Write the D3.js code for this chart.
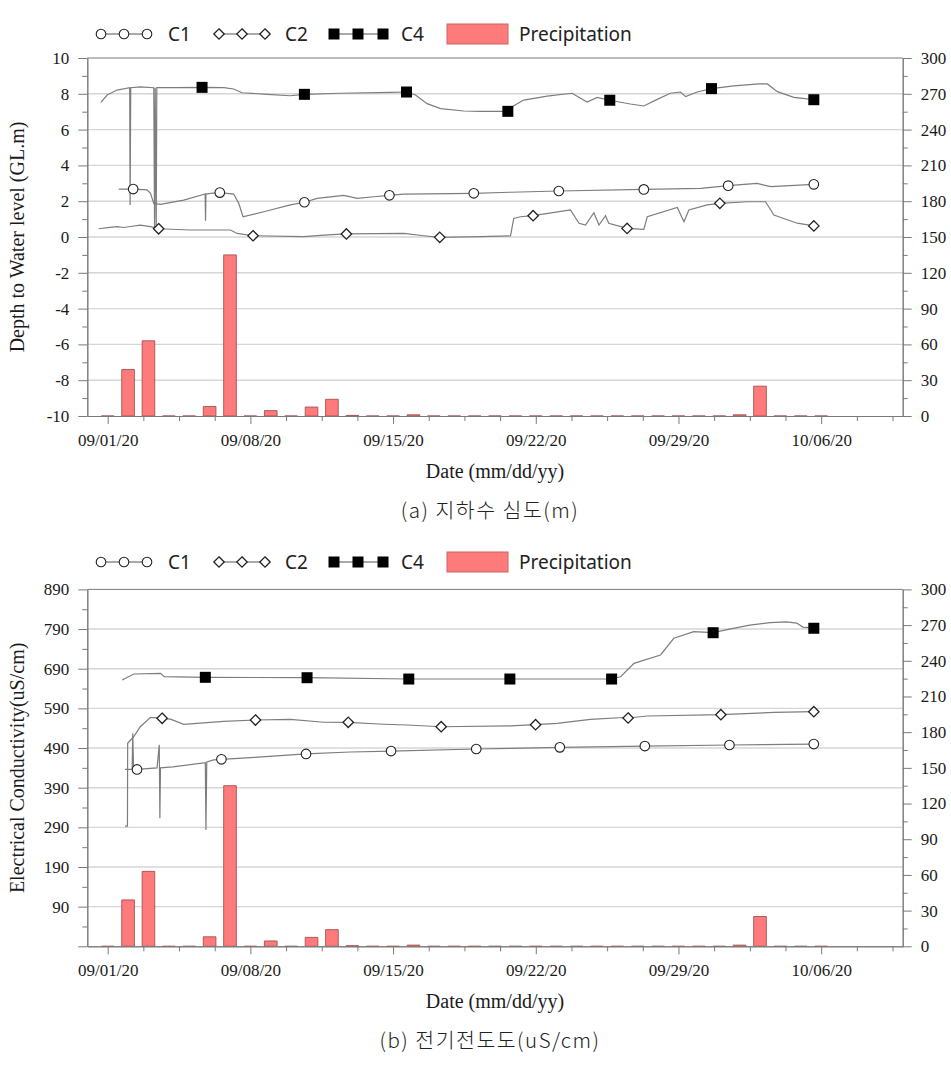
<!DOCTYPE html>
<html><head><meta charset="utf-8">
<script src="https://cdn.jsdelivr.net/npm/d3@7"></script>
<style>body{margin:0;background:#fff} svg{display:block}</style>
</head><body><svg id="c" width="951" height="1065"></svg>
<script>
// ---------- DATA ----------
const xTickLabels = ["09/01/20","09/08/20","09/15/20","09/22/20","09/29/20","10/06/20"];
const xDomainLabels = ["08/31/20","10/10/20"];
const seriesNames = ["C1","C2","C4"];
const barName = "Precipitation";
// daily precipitation (mm) 09/01/20 .. 10/06/20
const precipStart = "09/01/20";
const precipValues = [0,39,63,0,0,8,135,0,4.5,0,7.5,14,0.5,0,0,1,0,0,0,0,0,0,0,0,0,0,0,0,0,0,0,1,25,0,0,0];

// (a) depth to water level: [days since 09/01/20, GL.m]
const depthC1 = [[0.54,2.68],[1.25,2.68],[1.93,2.63],[2.1,2.44],[2.26,1.88],[2.59,1.82],[3.73,2.06],[4.78,2.4],[4.8,0.91],[4.82,2.4],[5.04,2.44],[5.5,2.48],[6.18,2.4],[6.43,1.88],[6.64,1.13],[7.66,1.41],[8.96,1.79],[9.65,1.94],[10.27,2.16],[11.58,2.33],[12.24,2.16],[13.05,2.25],[13.82,2.33],[14.53,2.4],[17.96,2.44],[19.76,2.5],[22.13,2.57],[26.3,2.66],[29.1,2.72],[30.44,2.87],[31.86,3.0],[32.52,2.81],[34.64,2.94]];
const depthC1Marks = [[1.25,2.68],[5.5,2.48],[9.65,1.94],[13.82,2.33],[17.96,2.44],[22.13,2.57],[26.3,2.66],[30.44,2.87],[34.64,2.94]];
const depthC2 = [[-0.44,0.46],[0.0,0.52],[0.46,0.58],[0.79,0.53],[1.2,0.6],[1.6,0.66],[2.1,0.58],[2.5,0.46],[4.06,0.39],[6.02,0.39],[6.35,0.2],[7.13,0.07],[9.62,0.02],[10.6,0.11],[11.71,0.17],[14.53,0.2],[15.5,0.07],[16.29,-0.02],[18.29,0.02],[19.76,0.06],[19.92,1.04],[20.25,1.13],[20.87,1.19],[22.7,1.51],[23.12,0.77],[23.44,0.67],[23.85,1.36],[24.1,0.67],[24.42,1.19],[24.58,0.77],[25.48,0.48],[26.3,0.43],[26.47,1.13],[27.94,1.65],[28.27,0.85],[28.51,1.51],[29.41,1.79],[30.03,1.88],[31.37,1.97],[32.27,1.97],[32.68,1.23],[33.83,0.77],[34.64,0.62]];
const depthC2Marks = [[2.5,0.46],[7.13,0.07],[11.71,0.17],[16.29,-0.02],[20.87,1.19],[25.48,0.48],[30.03,1.88],[34.64,0.62]];
const depthC4 = [[-0.33,7.52],[-0.03,7.93],[0.46,8.21],[1.08,8.34],[1.1,1.79],[1.13,8.34],[1.6,8.39],[2.26,8.34],[2.3,0.48],[2.33,8.34],[2.38,0.48],[2.41,8.34],[3.24,8.34],[4.63,8.36],[5.7,8.34],[6.18,8.27],[6.59,8.06],[7.82,7.97],[8.96,7.89],[9.65,7.97],[11.42,8.03],[13.87,8.08],[14.66,8.1],[15.1,7.93],[15.67,7.45],[16.33,7.17],[17.47,7.04],[18.29,7.02],[19.63,7.02],[19.92,7.34],[20.41,7.65],[21.56,7.87],[22.78,8.03],[23.52,7.54],[24.01,7.8],[24.63,7.64],[25.64,7.43],[26.3,7.32],[26.96,7.69],[27.6,8.03],[28.1,8.1],[28.35,7.84],[28.92,8.1],[29.62,8.29],[30.72,8.44],[31.95,8.55],[32.36,8.55],[32.85,8.12],[33.66,7.8],[34.64,7.67]];
const depthC4Marks = [[4.63,8.36],[9.65,7.97],[14.66,8.1],[19.63,7.02],[24.63,7.64],[29.62,8.29],[34.64,7.67]];

// (b) electrical conductivity: [days since 09/01/20, uS/cm]
const ecC1 = [[0.85,436],[1.2,436],[1.23,527],[1.27,436],[1.44,436],[2.42,440],[2.53,498],[2.56,313],[2.59,440],[3.2,442.5],[4.79,453],[4.82,283],[4.86,455],[5.2,460],[5.58,461.5],[7.2,466.6],[9.73,475],[11.9,480],[13.9,482.4],[18.08,487.5],[19.8,489],[22.18,491.7],[26.35,495],[30.5,497.6],[34.64,500]];
const ecC1Marks = [[1.44,436],[5.58,461.5],[9.73,475],[13.9,482.4],[18.08,487.5],[22.18,491.7],[26.35,495],[30.5,497.6],[34.64,500]];
const ecC2 = [[0.85,293],[0.97,293],[0.98,502],[1.28,519],[1.6,543.7],[2.1,567.5],[2.67,565],[3.08,562.7],[3.73,549.8],[5.69,557],[7.25,560.6],[8.96,562.3],[10.6,555],[11.8,554.8],[13.54,550],[14.69,548],[16.36,543.7],[19.76,546],[20.99,548.8],[22.05,552],[23.68,562.3],[25.32,567],[25.53,565.7],[26.47,570.7],[30.08,574],[32.68,580],[34.64,581.6]];
const ecC2Marks = [[2.67,565],[7.25,560.6],[11.8,554.8],[16.36,543.7],[20.99,548.8],[25.53,565.7],[30.08,574],[34.64,581.6]];
const ecC4 = [[0.71,661.5],[1.28,676.6],[2.59,678.4],[2.78,669.8],[4.79,668.3],[9.78,667.3],[14.77,664],[19.73,664],[24.72,664],[25.16,669.8],[25.82,703.6],[27.12,724.6],[27.77,766.7],[28.75,783.3],[29.7,780.8],[30.5,790],[31.5,800],[32.5,806],[33.3,808],[33.8,805],[34.1,795],[34.64,792]];
const ecC4Marks = [[4.79,668.3],[9.78,667.3],[14.77,664],[19.73,664],[24.72,664],[29.7,780.8],[34.64,792]];

const depthTicks = [-10,-8,-6,-4,-2,0,2,4,6,8,10];
const ecTicks = [-10,90,190,290,390,490,590,690,790,890];
const precipTicks = [0,30,60,90,120,150,180,210,240,270,300];

// ---------- DRAW ----------
const svg = d3.select("#c");
const parse = d3.utcParse("%m/%d/%y");
const fmt = d3.utcFormat("%m/%d/%y");
const DAY = 864e5;
const base = parse(precipStart).getTime();
const toDate = d => new Date(base + d * DAY);
const X0 = 87.3, X1 = 902.7;
const x = d3.scaleUtc().domain(xDomainLabels.map(parse)).range([X0, X1]);
const majorDates = xTickLabels.map(parse);
const minorDates = [];
majorDates.forEach(m => { for (let i = 1; i <= 3; i++) { const d = new Date(m.getTime() + i * 1.75 * DAY); if (d < x.domain()[1]) minorDates.push(d); } });

const serif = "'Liberation Serif','Times New Roman',serif";
const sans = "'Noto Sans','Open Sans',sans-serif";
const axisCol = "#7a7a7a";

function marker(g, type, cx, cy) {
  if (type === "circle") g.append("circle").attr("cx", cx).attr("cy", cy).attr("r", 4.8).attr("fill", "#fff").attr("stroke", "#222").attr("stroke-width", 1.1);
  else if (type === "diamond") g.append("path").attr("d", `M${cx},${cy-5.2}L${cx+5.2},${cy}L${cx},${cy+5.2}L${cx-5.2},${cy}Z`).attr("fill", "#fff").attr("stroke", "#222").attr("stroke-width", 1.3);
  else g.append("rect").attr("x", cx-5.5).attr("y", cy-5.5).attr("width", 11).attr("height", 11).attr("fill", "#000");
}

function chart(o) {
  const g = svg.append("g");
  const y = d3.scaleLinear().domain(o.yDomain).range([o.bottom, o.top]);
  const yR = d3.scaleLinear().domain([0, 300]).range([o.bottom, o.top]);

  // grid
  g.append("g").selectAll("line").data(o.yTicks.filter(v => v > o.yDomain[0] && v < o.yDomain[1])).join("line")
    .attr("x1", X0).attr("x2", X1).attr("y1", d => y(d)).attr("y2", d => y(d))
    .attr("stroke", "#d6d6d6").attr("stroke-width", 1.4);
  // top border
  g.append("line").attr("x1", X0).attr("x2", X1).attr("y1", o.top).attr("y2", o.top).attr("stroke", axisCol).attr("stroke-width", 1);

  // bars
  const hw = 0.31;
  g.append("g").selectAll("path").data(precipValues).join("path")
    .attr("d", (v, i) => { const a = x(toDate(i - hw)), b = x(toDate(i + hw)), y0 = yR(0), y1 = yR(v); return `M${a},${y0}V${y1}H${b}V${y0}Z`; })
    .attr("fill", "#ff7b7b").attr("stroke", "#a65050").attr("stroke-width", 0.9);

  // lines
  const line = d3.line().x(d => x(toDate(d[0]))).y(d => y(d[1]));
  o.series.forEach(s => {
    g.append("path").attr("d", line(s.data)).attr("fill", "none").attr("stroke", "#7d7d7d").attr("stroke-width", 1.2);
  });
  o.series.forEach(s => {
    const mg = g.append("g");
    s.marks.forEach(d => marker(mg, s.type, x(toDate(d[0])), y(d[1])));
  });

  // axes
  const styleAxis = a => { a.select(".domain").attr("stroke", axisCol); a.selectAll(".tick line").attr("stroke", axisCol); a.selectAll("text").attr("font-family", serif).attr("font-size", 17).attr("fill", "#1a1a1a"); };
  const minorTicks = [];
  for (let i = 0; i < o.yTicks.length - 1; i++) minorTicks.push((o.yTicks[i] + o.yTicks[i+1]) / 2);
  g.append("g").attr("transform", `translate(${X0},0)`).call(d3.axisLeft(y).tickValues(minorTicks).tickSize(5).tickSizeOuter(0).tickFormat("")).call(styleAxis);
  g.append("g").attr("transform", `translate(${X0},0)`).call(d3.axisLeft(y).tickValues(o.yTicks).tickSize(9).tickPadding(9).tickSizeOuter(0).tickFormat(d => o.hideLabel && o.hideLabel(d) ? "" : d)).call(styleAxis);
  const rMinor = precipTicks.slice(0, -1).map(v => v + 15);
  g.append("g").attr("transform", `translate(${X1},0)`).call(d3.axisRight(yR).tickValues(rMinor).tickSize(5).tickSizeOuter(0).tickFormat("")).call(styleAxis);
  g.append("g").attr("transform", `translate(${X1},0)`).call(d3.axisRight(yR).tickValues(precipTicks).tickSize(9).tickPadding(9).tickSizeOuter(0)).call(styleAxis);
  g.append("g").attr("transform", `translate(0,${o.bottom})`).call(d3.axisBottom(x).tickValues(minorDates).tickSize(5).tickSizeOuter(0).tickFormat("")).call(styleAxis);
  g.append("g").attr("transform", `translate(0,${o.bottom})`).call(d3.axisBottom(x).tickValues(majorDates).tickSize(8).tickPadding(10).tickSizeOuter(0).tickFormat(fmt)).call(styleAxis);

  // titles
  g.append("text").attr("x", 495).attr("y", o.bottom + 62).attr("text-anchor", "middle").attr("font-family", serif).attr("font-size", 20).attr("fill", "#1a1a1a").text("Date (mm/dd/yy)");
  g.append("text").attr("transform", `translate(24,${(o.top + o.bottom) / 2}) rotate(-90)`).attr("text-anchor", "middle").attr("font-family", serif).attr("font-size", 20).attr("fill", "#1a1a1a").text(o.yTitle);
  g.append("text").attr("x", 490).attr("y", o.bottom + 102).attr("text-anchor", "middle").attr("font-family", "'Noto Sans CJK KR',sans-serif").attr("font-weight", 300).attr("font-size", 20.5).attr("letter-spacing", 1.5).attr("fill", "#222").text(o.caption);

  // legend
  const L = g.append("g").attr("transform", `translate(0,${o.legendY})`);
  const items = [{type: "circle", xs: [101, 124, 147], tx: 168}, {type: "diamond", xs: [219, 242, 265], tx: 285}, {type: "square", xs: [334, 358, 383], tx: 401}];
  items.forEach((it, k) => {
    L.append("line").attr("x1", it.xs[0]).attr("x2", it.xs[2]).attr("y1", 0).attr("y2", 0).attr("stroke", "#555").attr("stroke-width", 1);
    it.xs.forEach(cx => marker(L, it.type, cx, 0));
    L.append("text").attr("x", it.tx).attr("y", 0).attr("dy", "0.35em").attr("font-family", sans).attr("font-size", 19).attr("fill", "#222").text(seriesNames[k]);
  });
  L.append("rect").attr("x", 447).attr("y", -10).attr("width", 61).attr("height", 20).attr("fill", "#ff7b7b").attr("stroke", "#c86464").attr("stroke-width", 1);
  L.append("text").attr("x", 519).attr("y", 0).attr("dy", "0.35em").attr("font-family", sans).attr("font-size", 19).attr("fill", "#222").text(barName);
}

chart({top: 58, bottom: 416, yDomain: [-10, 10], yTicks: depthTicks, yTitle: "Depth to Water level (GL.m)", caption: "(a) 지하수 심도(m)", legendY: 34,
  series: [{data: depthC1, marks: depthC1Marks, type: "circle"}, {data: depthC2, marks: depthC2Marks, type: "diamond"}, {data: depthC4, marks: depthC4Marks, type: "square"}]});
chart({top: 589.4, bottom: 946.3, yDomain: [-10, 890], yTicks: ecTicks, hideLabel: d => d === -10, yTitle: "Electrical Conductivity(uS/cm)", caption: "(b) 전기전도도(uS/cm)", legendY: 562,
  series: [{data: ecC1, marks: ecC1Marks, type: "circle"}, {data: ecC2, marks: ecC2Marks, type: "diamond"}, {data: ecC4, marks: ecC4Marks, type: "square"}]});
</script></body></html>
